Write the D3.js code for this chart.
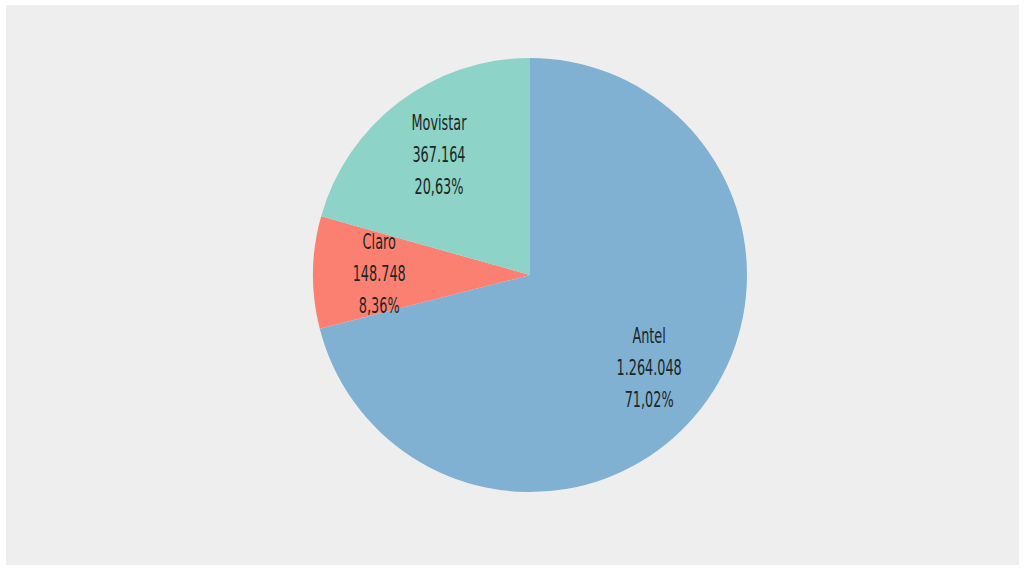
<!DOCTYPE html>
<html><head><meta charset="utf-8">
<script src="https://cdn.jsdelivr.net/npm/d3@7"></script>
<style>html,body{margin:0;padding:0;background:#fff;}svg{display:block;}</style>
</head><body>
<svg id="chart" width="1028" height="569"></svg>
<script>
const categories = ["Antel", "Claro", "Movistar"];
const values = [1264048, 148748, 367164];
const percentLabels = ["71,02%", "8,36%", "20,63%"];
const colors = ["#80b1d3", "#fb8072", "#8dd3c7"];

const svg = d3.select("#chart");
svg.append("rect").attr("x", 6).attr("y", 5).attr("width", 1013).attr("height", 560).attr("fill", "#eeeeee");

const cx = 530, cy = 275, R = 217;
const g = svg.append("g").attr("transform", `translate(${cx},${cy})`);
const data = categories.map((c, i) => ({name: c, value: values[i], pct: percentLabels[i], color: colors[i]}));
const pie = d3.pie().value(d => d.value).sort(null);
const arcs = pie(data);
const arc = d3.arc().innerRadius(0).outerRadius(R);
const labelArc = d3.arc().innerRadius(R * 0.695).outerRadius(R * 0.695);

g.selectAll("path").data(arcs).join("path")
  .attr("d", arc).attr("fill", d => d.data.color);

const fmt = d3.formatLocale({decimal: ",", thousands: ".", grouping: [3], currency: ["", ""]}).format(",d");
const lab = g.selectAll("g.lab").data(arcs).join("g").attr("class", "lab")
  .attr("transform", d => `translate(${labelArc.centroid(d)}) scale(0.68,1)`);
lab.each(function(d) {
  const lines = [d.data.name, fmt(d.data.value), d.data.pct];
  d3.select(this).selectAll("text").data(lines).join("text")
    .attr("y", (t, i) => (i - 1) * 32)
    .attr("dy", "0.35em")
    .attr("text-anchor", "middle")
    .attr("font-family", "'DejaVu Sans Condensed', 'DejaVu Sans', sans-serif")
    .attr("font-size", 21)
    .attr("fill", "#1b2626")
    .text(t => t);
});
</script>
</body></html>
